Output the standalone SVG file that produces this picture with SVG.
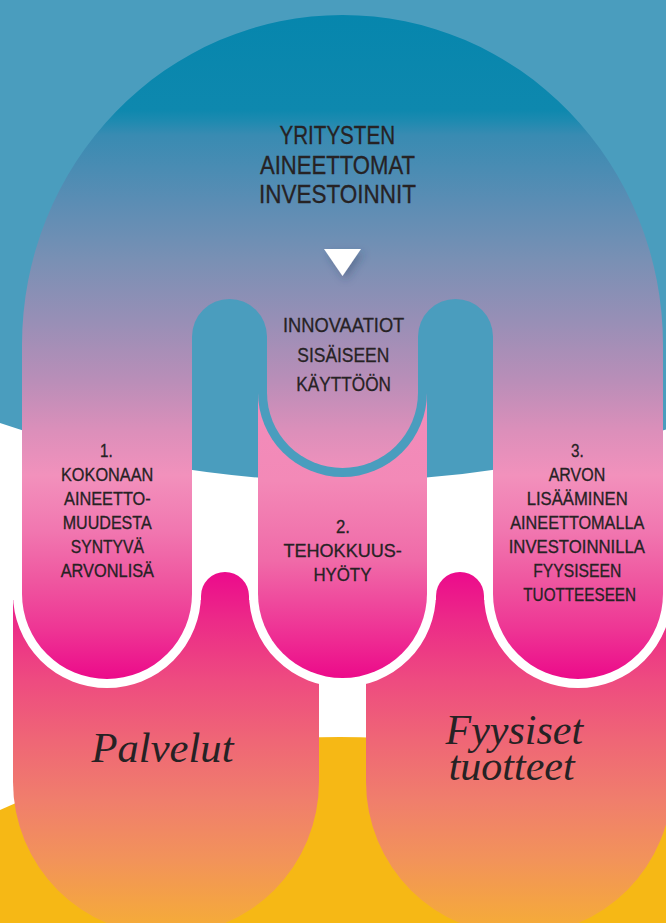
<svg xmlns="http://www.w3.org/2000/svg" width="666" height="923" viewBox="0 0 666 923">
  <defs>
    <linearGradient id="archGrad" gradientUnits="userSpaceOnUse" x1="0" y1="15" x2="0" y2="679">
      <stop offset="0" stop-color="#0686ad"/>
      <stop offset="0.143" stop-color="#0e88ae"/>
      <stop offset="0.158" stop-color="#1c8ab0"/>
      <stop offset="0.181" stop-color="#398bb2"/>
      <stop offset="0.279" stop-color="#5a8db4"/>
      <stop offset="0.369" stop-color="#7990b4"/>
      <stop offset="0.459" stop-color="#978fb6"/>
      <stop offset="0.550" stop-color="#b98eb8"/>
      <stop offset="0.625" stop-color="#db8fba"/>
      <stop offset="0.693" stop-color="#f291bc"/>
      <stop offset="0.776" stop-color="#f177b0"/>
      <stop offset="0.851" stop-color="#ef57a0"/>
      <stop offset="0.926" stop-color="#ee3594"/>
      <stop offset="1" stop-color="#ec0a8a"/>
    </linearGradient>
    <linearGradient id="colGrad" gradientUnits="userSpaceOnUse" x1="0" y1="392.5" x2="0" y2="678">
      <stop offset="0" stop-color="#f18dbb"/>
      <stop offset="0.31" stop-color="#f389b7"/>
      <stop offset="0.59" stop-color="#f06aa8"/>
      <stop offset="0.87" stop-color="#ee2a92"/>
      <stop offset="1" stop-color="#ec0a8a"/>
    </linearGradient>
    <linearGradient id="lowGrad" gradientUnits="userSpaceOnUse" x1="0" y1="572" x2="0" y2="923">
      <stop offset="0" stop-color="#ec0a8c"/>
      <stop offset="0.137" stop-color="#ec2a88"/>
      <stop offset="0.308" stop-color="#ee4b80"/>
      <stop offset="0.479" stop-color="#ef6676"/>
      <stop offset="0.650" stop-color="#f07e6c"/>
      <stop offset="0.821" stop-color="#f2935a"/>
      <stop offset="1" stop-color="#f5aa3a"/>
    </linearGradient>
    <filter id="shadow" x="-50%" y="-50%" width="200%" height="200%">
      <feDropShadow dx="3" dy="4" stdDeviation="4" flood-color="#2a3a60" flood-opacity="0.35"/>
    </filter>
  </defs>
  <style>
    .blue { fill: #4a9dbe; }
    .outline { fill: none; stroke: #ffffff; stroke-width: 18; }
    .sans { font-family: "Liberation Sans", Arial, sans-serif; fill: #262224; stroke: #262224; stroke-width: 0.3; }
    .serif { font-family: "Liberation Serif", "Times New Roman", serif; font-style: italic; fill: #262224; font-size: 42px; }
    .t25 { font-size: 25px; }
    .t21 { font-size: 21px; }
    .t18 { font-size: 18px; }
  </style>

  <g id="background">
    <rect x="0" y="0" width="666" height="923" fill="#ffffff"/>
    <circle cx="340" cy="1565" r="828" fill="#f6b815"/>
    <path class="blue" d="M0,0 H666 V429.4 A1040,1040 0 0 1 0,423 Z"/>
  </g>

  <g id="lower-shapes">
    <path fill="url(#lowGrad)" d="M13,600 V782 A153,153 0 0 0 166,935 A153,153 0 0 0 319,782 V600 Z"/>
    <path fill="url(#lowGrad)" d="M201,620 V596 A24,24 0 0 1 249,596 V620 Z"/>
    <path fill="url(#lowGrad)" d="M366,600 V782 A153,153 0 0 0 519,935 A153,153 0 0 0 672,782 V600 Z"/>
    <path fill="url(#lowGrad)" d="M436,620 V596 A24,24 0 0 1 484,596 V620 Z"/>
  </g>

  <g id="white-outlines">
    <path class="outline" d="M22,485 V594 A85,85 0 0 0 107,679 A85,85 0 0 0 192,594 V485"/>
    <path class="outline" d="M258,485 V593.5 A84.5,84.5 0 0 0 342.5,678 A84.5,84.5 0 0 0 427,593.5 V485"/>
    <path class="outline" d="M493,485 V594 A85,85 0 0 0 578,679 A85,85 0 0 0 663,594 V485"/>
  </g>

  <g id="arch">
    <path fill="url(#archGrad)" d="M22,345 A320.5,330 0 0 1 663,345 V594 A85,85 0 0 1 578,679 A85,85 0 0 1 493,594 V392.5 H192 V594 A85,85 0 0 1 107,679 A85,85 0 0 1 22,594 Z"/>
    <path class="blue" d="M192,400 V336.5 A37.5,37.5 0 0 1 267,336.5 V392.5 H258 V400 Z"/>
    <path class="blue" d="M493,400 V336.5 A37.5,37.5 0 0 0 418,336.5 V392.5 H427 V400 Z"/>
  </g>

  <g id="center-column">
    <path fill="url(#colGrad)" d="M258,392.5 V593.5 A84.5,84.5 0 0 0 342.5,678 A84.5,84.5 0 0 0 427,593.5 V392.5 Z"/>
    <path class="blue" d="M258,386 V392.5 A84.5,84.5 0 0 0 342.5,477 A84.5,84.5 0 0 0 427,392.5 V386 Z"/>
    <path fill="url(#archGrad)" d="M267,384 V392.5 A75.5,75.5 0 0 0 342.5,468 A75.5,75.5 0 0 0 418,392.5 V384 Z"/>
  </g>

  <g id="title">
    <text class="sans t25" x="279.5" y="144" textLength="115.5" lengthAdjust="spacingAndGlyphs">YRITYSTEN</text>
    <text class="sans t25" x="260" y="174" textLength="155" lengthAdjust="spacingAndGlyphs">AINEETTOMAT</text>
    <text class="sans t25" x="259" y="203" textLength="157" lengthAdjust="spacingAndGlyphs">INVESTOINNIT</text>
  </g>

  <g id="arrow">
    <polygon points="324,249 361,249 342.5,276" fill="#ffffff" filter="url(#shadow)"/>
  </g>

  <g id="innovaatiot">
    <text class="sans t21" x="283" y="332.3" textLength="121.3" lengthAdjust="spacingAndGlyphs">INNOVAATIOT</text>
    <text class="sans t21" x="297.3" y="361.7" textLength="92" lengthAdjust="spacingAndGlyphs">SISÄISEEN</text>
    <text class="sans t21" x="296.3" y="391" textLength="94.7" lengthAdjust="spacingAndGlyphs">KÄYTTÖÖN</text>
  </g>

  <g id="item-1">
    <text class="sans t18" x="100" y="456.7" textLength="12.7" lengthAdjust="spacingAndGlyphs">1.</text>
    <text class="sans t18" x="61" y="481" textLength="92.3" lengthAdjust="spacingAndGlyphs">KOKONAAN</text>
    <text class="sans t18" x="64" y="505" textLength="86.7" lengthAdjust="spacingAndGlyphs">AINEETTO-</text>
    <text class="sans t18" x="62.7" y="529.3" textLength="89" lengthAdjust="spacingAndGlyphs">MUUDESTA</text>
    <text class="sans t18" x="70.7" y="553.3" textLength="73.3" lengthAdjust="spacingAndGlyphs">SYNTYVÄ</text>
    <text class="sans t18" x="60.7" y="576.7" textLength="93.3" lengthAdjust="spacingAndGlyphs">ARVONLISÄ</text>
  </g>

  <g id="item-2">
    <text class="sans t18" x="336" y="533" textLength="14" lengthAdjust="spacingAndGlyphs">2.</text>
    <text class="sans t18" x="283.5" y="557" textLength="118.3" lengthAdjust="spacingAndGlyphs">TEHOKKUUS-</text>
    <text class="sans t18" x="313.4" y="581" textLength="58" lengthAdjust="spacingAndGlyphs">HYÖTY</text>
  </g>

  <g id="item-3">
    <text class="sans t18" x="571" y="456.7" textLength="12.7" lengthAdjust="spacingAndGlyphs">3.</text>
    <text class="sans t18" x="548.7" y="481" textLength="56.6" lengthAdjust="spacingAndGlyphs">ARVON</text>
    <text class="sans t18" x="526.7" y="505" textLength="101" lengthAdjust="spacingAndGlyphs">LISÄÄMINEN</text>
    <text class="sans t18" x="510.3" y="529" textLength="134" lengthAdjust="spacingAndGlyphs">AINEETTOMALLA</text>
    <text class="sans t18" x="508.7" y="553" textLength="136.3" lengthAdjust="spacingAndGlyphs">INVESTOINNILLA</text>
    <text class="sans t18" x="533.3" y="577" textLength="88" lengthAdjust="spacingAndGlyphs">FYYSISEEN</text>
    <text class="sans t18" x="523.3" y="600.7" textLength="112.7" lengthAdjust="spacingAndGlyphs">TUOTTEESEEN</text>
  </g>

  <g id="palvelut">
    <text class="serif" x="91.5" y="762" textLength="142" lengthAdjust="spacingAndGlyphs">Palvelut</text>
  </g>

  <g id="fyysiset-tuotteet">
    <text class="serif"><tspan x="445.5" y="744">Fyysiset</tspan><tspan x="448.7" y="780">tuotteet</tspan></text>
  </g>
</svg>
